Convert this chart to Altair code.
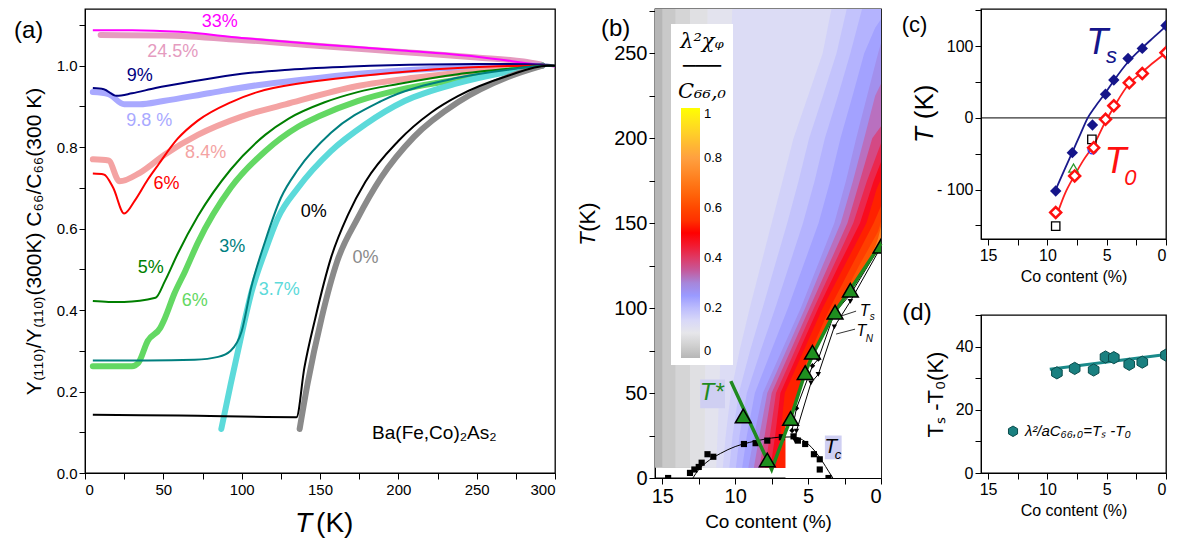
import altair as alt
import pandas as pd

FONT = "Liberation Sans"

# ======================= panel (a) data =======================
T33 = [5, 30, 60, 100, 150, 200, 250, 295, 300]
V33 = [1.087, 1.087, 1.083, 1.068, 1.052, 1.038, 1.022, 1.0, 0.998]
T245 = [10, 50, 100, 150, 200, 250, 280, 291]
V245 = [1.075, 1.074, 1.063, 1.048, 1.034, 1.02, 1.01, 1.003]
T9 = [5, 12, 20, 30, 45, 70, 100, 130, 170, 220, 260, 295, 300]
V9 = [0.945, 0.942, 0.926, 0.932, 0.945, 0.962, 0.98, 0.99, 0.998, 1.003, 1.004, 1.002, 1.0]
T98 = [5, 15, 25, 35, 50, 80, 110, 140, 175, 210, 250, 292]
V98 = [0.935, 0.93, 0.905, 0.905, 0.913, 0.933, 0.952, 0.966, 0.98, 0.99, 0.996, 1.0]
T6R = [5, 12, 18, 25, 32, 40, 47, 59, 72, 93, 110, 140, 174, 210, 238, 270, 295, 300]
V6R = [0.735, 0.733, 0.70, 0.637, 0.67, 0.72, 0.758, 0.82, 0.865, 0.91, 0.935, 0.958, 0.974, 0.987, 0.994, 0.999, 1.0, 1.0]
T84 = [5, 15, 22, 35, 51, 72, 100, 128, 174, 210, 238, 270, 292]
V84 = [0.77, 0.767, 0.716, 0.737, 0.782, 0.83, 0.875, 0.905, 0.95, 0.97, 0.982, 0.993, 1.0]
T5 = [5, 15, 25, 45, 51, 59, 72, 93, 115, 130, 153, 174, 200, 238, 270, 295, 300]
V5 = [0.422, 0.42, 0.42, 0.43, 0.471, 0.537, 0.63, 0.745, 0.83, 0.87, 0.91, 0.935, 0.955, 0.979, 0.992, 1.0, 1.0]
T6G = [5, 30, 34, 40, 48, 51, 57, 64, 72, 93, 115, 136, 149, 174, 200, 238, 270, 292]
V6G = [0.262, 0.262, 0.27, 0.324, 0.356, 0.38, 0.44, 0.496, 0.565, 0.70, 0.79, 0.85, 0.875, 0.913, 0.94, 0.966, 0.988, 1.0]
T3 = [5, 40, 70, 85, 93, 100, 106, 115, 125, 136, 157, 189, 238, 270, 295, 300]
V3 = [0.276, 0.276, 0.278, 0.285, 0.30, 0.348, 0.454, 0.569, 0.675, 0.745, 0.835, 0.913, 0.97, 0.99, 1.0, 1.0]
T37 = [87, 93, 100, 106, 115, 123, 136, 157, 179, 204, 238, 270, 292]
V37 = [0.108, 0.218, 0.341, 0.44, 0.545, 0.625, 0.70, 0.79, 0.856, 0.913, 0.957, 0.985, 1.0]
T0K = [5, 60, 135, 140, 147, 157, 168, 179, 200, 221, 238, 270, 295, 300]
V0K = [0.143, 0.141, 0.137, 0.258, 0.38, 0.528, 0.635, 0.715, 0.815, 0.885, 0.925, 0.975, 1.0, 1.0]
T0G = [137, 142, 151, 161, 174, 189, 210, 238, 270, 292]
V0G = [0.108, 0.218, 0.38, 0.52, 0.625, 0.725, 0.825, 0.91, 0.972, 1.0]

A_LINES = [("33%", T33, V33), ("9%", T9, V9), ("6%", T6R, V6R), ("5%", T5, V5),
           ("3%", T3, V3), ("0%", T0K, V0K)]
A_BANDS = [("24.5%", T245, V245), ("9.8 %", T98, V98), ("8.4%", T84, V84),
           ("6% pts", T6G, V6G), ("3.7%", T37, V37), ("0% pts", T0G, V0G)]
A_NAMES = ["33%", "24.5%", "9%", "9.8 %", "6%", "8.4%", "5%", "6% pts", "3%", "3.7%", "0%", "0% pts"]
A_COLORS = ["#ff00ff", "#e59bbf", "#00007f", "#a9a9ff", "#ff0000", "#f4a3a3", "#007f00", "#63d863",
            "#007f7f", "#5cdada", "#000000", "#8a8a8a"]
# label text, series, T, value
A_LABELS = [("33%", "33%", 86, 1.107), ("24.5%", "24.5%", 56, 1.033), ("9%", "9%", 35, 0.974),
            ("9.8 %", "9.8 %", 41, 0.864), ("8.4%", "8.4%", 77, 0.785), ("6%", "6%", 52, 0.709),
            ("5%", "5%", 42, 0.503), ("6%", "6% pts", 70, 0.422), ("3%", "3%", 94, 0.555),
            ("3.7%", "3.7%", 124, 0.45), ("0%", "0%", 146, 0.64), ("0%", "0% pts", 179, 0.528)]

# ======================= panel (b) data =======================
# colour map lambda^2 chi / C66,0 read from the picture as iso-value lines:
# for each level, Co content (%) of the iso line at the listed temperatures (K);
# the value is >= level on the low-Co (right) side of the line.
CONTOURS = [
    (0.025, [15.0, 15.0], [6, 276]),
    (0.05, [14.1, 14.1], [6, 276]),
    (0.075, [13.1, 13.1], [6, 276]),
    (0.1, [12.1, 12.0, 11.9], [6, 150, 276]),
    (0.125, [11.3, 11.1, 10.9, 10.5, 10.2], [6, 50, 100, 200, 276]),
    (0.15, [10.85, 10.65, 10.3, 9.7, 9.0, 8.25, 7.5, 6.75, 6.0, 5.0, 4.0, 3.4],
     [6, 25, 50, 75, 100, 125, 150, 175, 200, 225, 250, 276]),
    (0.175, [10.4, 10.18, 9.75, 8.98, 8.12, 7.28, 6.43, 5.65, 4.93, 3.98, 3.05, 2.35],
     [6, 25, 50, 75, 100, 125, 150, 175, 200, 225, 250, 276]),
    (0.2, [9.95, 9.7, 9.2, 8.25, 7.25, 6.3, 5.35, 4.55, 3.85, 2.95, 2.1, 1.3],
     [6, 25, 50, 75, 100, 125, 150, 175, 200, 225, 250, 276]),
    (0.225, [9.52, 9.2, 8.65, 7.52, 6.38, 5.33, 4.28, 3.48, 2.78, 1.95, 1.15, 0.4, 0.0],
     [6, 25, 50, 75, 100, 125, 150, 175, 200, 225, 250, 265, 270]),
    (0.25, [9.1, 8.7, 8.1, 6.8, 5.5, 4.35, 3.2, 2.4, 1.7, 0.95, 0.2, 0.0],
     [6, 25, 50, 75, 100, 125, 150, 175, 200, 225, 250, 256]),
    (0.3, [8.72, 8.34, 7.8, 6.5, 5.2, 4.0, 2.76, 1.92, 1.15, 0.4, 0.0],
     [6, 25, 50, 75, 100, 125, 150, 175, 200, 225, 232]),
    (0.35, [8.34, 7.98, 7.5, 6.2, 4.9, 3.6, 2.3, 1.45, 0.6, 0.0],
     [6, 25, 50, 75, 100, 125, 150, 175, 200, 207]),
    (0.4, [7.96, 7.62, 7.2, 5.9, 4.6, 3.25, 1.9, 0.96, 0.0], [6, 25, 50, 75, 100, 125, 150, 175, 197]),
    (0.45, [7.58, 7.26, 6.9, 5.6, 4.3, 2.9, 1.44, 0.5, 0.0], [6, 25, 50, 75, 100, 125, 150, 175, 186]),
    (0.5, [7.2, 6.9, 6.6, 5.3, 4.0, 2.5, 1.0, 0.3, 0.0], [6, 25, 50, 75, 100, 125, 150, 170, 176]),
    (0.55, [5.6, 5.5, 4.8, 3.5, 2.0, 0.5, 0.0], [45, 60, 75, 100, 125, 150, 160]),
    (0.6, [3.6, 3.0, 1.5, 0.2, 0.0], [90, 100, 125, 145, 151]),
    (0.65, [2.2, 1.0, 0.2, 0.0], [112, 125, 140, 145]),
    (0.7, [0.6, 0.2, 0.0], [131, 141, 148]),
]
MAP_X = [15.5, 0.0]     # extent of the colour map (Co %)
MAP_T = [6, 276]        # extent of the colour map (K)
# edge of the measured region (right of it: no data, white)
EDGE_X = [6.55, 6.55, 6.2, 5.2, 4.6, 3.15, 2.1, 0.0]
EDGE_T = [0, 30, 35, 62, 74, 98, 111, 138]

V_STOPS = [0, 0.05, 0.1, 0.15, 0.2, 0.25, 0.3, 0.35, 0.4, 0.45, 0.5, 0.6, 0.7, 0.8, 0.9, 1.0]
V_COLORS = ["#b6b6b6", "#d0d0d0", "#e6e6ea", "#d8d8f8", "#bcbcfd", "#9a9aff", "#a686da", "#c45a9c",
            "#de3a66", "#f21a30", "#ff0000", "#ff4800", "#ff7818", "#ffa040", "#ffd028", "#ffff00"]

TC_X = [14.6, 13.1, 12.8, 12.5, 12.3, 11.9, 11.5, 9.4, 8.6, 7.8, 6.8, 6.0, 5.7, 5.2, 4.6, 4.2, 4.2, 3.6]
TC_T = [0, 3, 5, 6.5, 9, 14, 12.5, 20, 20.5, 22, 24, 24.5, 22, 20, 14, 11, 5, 0]
TCF_X = [12.9, 12.5, 12, 11, 10, 9, 8, 7, 6, 5.5, 5, 4.5, 4, 3.6, 3.3]
TCF_T = [0, 5, 9, 14.5, 18.5, 21, 22.8, 24, 24.2, 23, 20, 15.5, 9.5, 4, 0]
BTS_X = [6.1, 5.8, 4.7, 4.3, 3.2, 2.1, 0.1]
BTS_T = [28, 41, 66, 70, 97, 108, 136]
BTN_X = [5.9, 5.8, 4.8, 4.3, 3.2, 2.1, 0.2]
BTN_T = [22, 27.6, 56, 61, 89, 104, 133]
G_X = [10.3, 7.5, 6.2, 5.2, 4.6, 3.15, 2.1, 0.0]
G_T = [57, 5, 35, 62, 74, 98, 111, 138]
TRI_X = [9.45, 7.8, 6.2, 5.2, 4.7, 3.15, 2.1, 0.0]
TRI_T = [36.5, 10.6, 35, 62, 74, 97.6, 110.5, 136.5]

# ======================= panel (c) data =======================
C_TS_X = [9.3, 7.9, 6.2, 5.1, 4.4, 3.2, 2.0, 0.0]
C_TS_T = [-102, -48.5, -9.8, 33, 53, 83, 97, 129]
C_T0_X = [9.3, 7.7, 6.1, 5.1, 4.4, 3.1, 2.0, 0.0]
C_T0_T = [-132, -81, -41.5, -2, 17, 49, 62, 91]
C_TSF_X = [9.3, 8.5, 7.9, 7.2, 6.6, 6.0, 5.1, 4.4, 3.2, 2.0, 1.0, 0.0]
C_TSF_T = [-100, -70, -48, -22, 0, 15, 35, 52, 78, 98, 113, 128]
C_T0F_X = [9.3, 8.5, 7.7, 7.0, 6.1, 5.1, 4.4, 3.1, 2.0, 1.0, 0.0]
C_T0F_T = [-140, -105, -80, -60, -38, -5, 15, 48, 64, 78, 91]
C_SQ_X = [9.3, 6.25]
C_SQ_T = [-151, -30]
C_TRI_X = [7.8]
C_TRI_T = [-70]
C_CIR_X = [6.2]
C_CIR_T = [-44]

# ======================= panel (d) data =======================
D_X = [9.2, 7.7, 6.1, 5.1, 4.4, 3.1, 2.0, 0.0]
D_T = [31.7, 33.1, 32.6, 36.7, 36.5, 34.4, 35.1, 37.3]
D_FIT_X = [9.8, 0.0]
D_FIT_T = [32.8, 37.5]

HEX = "M0,-1L0.866,-0.5L0.866,0.5L0,1L-0.866,0.5L-0.866,-0.5Z"


def long_df(specs):
    rows = []
    for name, ts, vs in specs:
        for t, v in zip(ts, vs):
            rows.append({"series": name, "T": t, "v": v})
    return pd.DataFrame(rows)


def xy(xs, ys):
    return pd.DataFrame({"x": xs, "y": ys})


# ======================= panel (a) =======================
SA_X = alt.Scale(domain=[0, 300], nice=False)
SA_Y = alt.Scale(domain=[0, 1.139], nice=False, zero=False)
AX_AX = alt.Axis(values=list(range(0, 301, 25)), labelExpr="datum.value % 50 === 0 ? datum.label : ''",
                 title=None, labelFontSize=15, tickSize=6, labelPadding=3)
AX_AY = alt.Axis(values=[round(0.1 * i, 1) for i in range(12)],
                 labelExpr="round(datum.value*10) % 2 === 0 ? format(datum.value, '.1f') : ''",
                 title="Y₍₁₁₀₎/Y₍₁₁₀₎(300K)   C₆₆/C₆₆(300 K)", titleFontSize=21,
                 titleFontWeight="normal", titlePadding=12, labelFontSize=15, tickSize=6)
col_a = alt.Color("series:N", scale=alt.Scale(domain=A_NAMES, range=A_COLORS), legend=None)


def enc_a(ch, xf="T", yf="v"):
    return ch.encode(x=alt.X(f"{xf}:Q", scale=SA_X, axis=AX_AX), y=alt.Y(f"{yf}:Q", scale=SA_Y, axis=AX_AY))


bands = enc_a(alt.Chart(long_df(A_BANDS)).mark_line(strokeWidth=6, strokeCap="round", strokeJoin="round",
                                                    interpolate="monotone")).encode(color=col_a)
lines = enc_a(alt.Chart(long_df(A_LINES)).mark_line(strokeWidth=2, interpolate="monotone")).encode(color=col_a)
lab_df = pd.DataFrame(A_LABELS, columns=["text", "series", "T", "v"])
labels_a = enc_a(alt.Chart(lab_df).mark_text(fontSize=18)).encode(text="text:N", color=col_a)
misc_a = pd.DataFrame([
    {"T": 223, "v": 0.098, "text": "Ba(Fe,Co)₂As₂", "size": 19, "style": "normal", "align": "center"},
    {"T": -36, "v": 1.085, "text": "(a)", "size": 24, "style": "normal", "align": "center"},
    {"T": 145, "v": -0.125, "text": "T", "size": 28, "style": "italic", "align": "right"},
    {"T": 147.5, "v": -0.125, "text": "(K)", "size": 28, "style": "normal", "align": "left"},
])
texts_a = []
for _, r in misc_a.iterrows():
    texts_a.append(enc_a(alt.Chart(pd.DataFrame([r])).mark_text(
        fontSize=int(r["size"]), fontStyle=r["style"], align=r["align"], color="black")).encode(text="text:N"))
panel_a = alt.layer(bands, lines, labels_a, *texts_a).properties(width=470, height=464)

# ======================= panel (b) =======================
SB_X = alt.Scale(domain=[15.5, 0], nice=False)
SB_Y = alt.Scale(domain=[0, 276], nice=False)
AX_BX = alt.Axis(values=[15, 12.5, 10, 7.5, 5, 2.5, 0], labelExpr="datum.value % 5 === 0 ? datum.label : ''",
                 title="Co content (%)", titleFontSize=19, titleFontWeight="normal", labelFontSize=20,
                 tickSize=6, titlePadding=6)
AX_BY = alt.Axis(values=list(range(0, 276, 25)), labelExpr="datum.value % 50 === 0 ? datum.label : ''",
                 title=None, labelFontSize=20, tickSize=6)
CS = alt.Scale(domain=V_STOPS, range=V_COLORS)
legend_b = alt.Legend(type="gradient", orient="none", legendX=16, legendY=15, direction="vertical",
                      gradientLength=250, gradientThickness=19, values=[0, 0.2, 0.4, 0.6, 0.8, 1], format="~g",
                      labelFontSize=13, labelOffset=4, fillColor="white", padding=7,
                      title=["λ²χᵩ", "───", "C₆₆,₀"], titleFontSize=21, titleFontWeight="normal",
                      titleFontStyle="italic", titleFont="DejaVu Serif",
                      titleAlign="center", titleAnchor="middle", titleLineHeight=25, titlePadding=6)
color_b = alt.Color("v:Q", scale=CS, legend=legend_b)


def enc_b(ch):
    return ch.encode(x=alt.X("x:Q", scale=SB_X, axis=AX_BX), y=alt.Y("y:Q", scale=SB_Y, axis=AX_BY))


base_map = enc_b(alt.Chart(pd.DataFrame({"x": [MAP_X[0]], "x2": [MAP_X[1]], "y": [MAP_T[0]],
                                         "y2": [MAP_T[1]], "v": [0.0]})).mark_rect()).encode(
    x2="x2:Q", y2="y2:Q", color=color_b)
levels = [l for l, _, _ in CONTOURS]
map_layers = [base_map]
for k, (lev, cx, ct) in enumerate(CONTOURS):
    nxt = levels[k + 1] if k + 1 < len(levels) else lev + 0.05
    mid = (lev + nxt) / 2.0
    df = pd.DataFrame({"x": cx, "y": ct, "v": [mid] * len(cx)})
    map_layers.append(alt.Chart(df).mark_area(orient="horizontal").encode(
        y=alt.Y("y:Q", scale=SB_Y, axis=AX_BY), x=alt.X("x:Q", scale=SB_X, axis=AX_BX),
        x2=alt.datum(0), color=color_b))

white = alt.Chart(xy(EDGE_X, EDGE_T)).mark_area(orient="horizontal", color="white").encode(
    y=alt.Y("y:Q", scale=SB_Y, axis=AX_BY), x=alt.X("x:Q", scale=SB_X, axis=AX_BX), x2=alt.datum(0))
boxes = alt.Chart(pd.DataFrame({"x": [12.4, 3.85], "x2": [10.7, 2.7], "y": [41, 11], "y2": [58, 25]})).mark_rect(
    color="#cfcff2").encode(x=alt.X("x:Q", scale=SB_X, axis=AX_BX), x2="x2:Q",
                            y=alt.Y("y:Q", scale=SB_Y, axis=AX_BY), y2="y2:Q")
g_df = pd.DataFrame({"x": G_X, "y": G_T, "o": list(range(len(G_X)))})
tc_fit = enc_b(alt.Chart(xy(TCF_X, TCF_T)).mark_line(color="black", strokeWidth=1, interpolate="monotone"))
bts_line = enc_b(alt.Chart(xy(BTS_X, BTS_T)).mark_line(color="black", strokeWidth=1))
btn_line = enc_b(alt.Chart(xy(BTN_X, BTN_T)).mark_line(color="black", strokeWidth=1))
bts_pts = enc_b(alt.Chart(xy(BTS_X[:-1], BTS_T[:-1])).mark_point(shape="diamond", filled=True, color="black",
                                                                  size=30, opacity=1))
btn_pts = enc_b(alt.Chart(xy(BTN_X[:-1], BTN_T[:-1])).mark_point(shape="triangle-down", filled=True, color="black",
                                                                  size=30, opacity=1))
tc_pts = enc_b(alt.Chart(xy(TC_X, TC_T)).mark_point(shape="square", filled=True, color="black", size=38,
                                                    opacity=1, clip=True))
green = enc_b(alt.Chart(g_df).mark_line(color="#1f8a1f", strokeWidth=3.5)).encode(order="o:Q")
tri = enc_b(alt.Chart(xy(TRI_X, TRI_T)).mark_point(shape="triangle-up", filled=True, fill="#1f8f1f",
                                                    stroke="black", strokeWidth=1.5, size=250, opacity=1, clip=True))
leader = alt.Chart(pd.DataFrame({"x": [1.71, 1.78], "x2": [2.74, 3.08], "y": [98.2, 87.6], "y2": [95.3, 84.7]})).mark_rule(
    color="black", strokeWidth=0.8).encode(x=alt.X("x:Q", scale=SB_X, axis=AX_BX), x2="x2:Q",
                                           y=alt.Y("y:Q", scale=SB_Y, axis=AX_BY), y2="y2:Q")
B_TEXTS = [
    (18.2, 264, "(b)", 24, "normal", "black", 0),
    (20.1, 140.6, "T", 22, "italic", "black", 270),
    (20.1, 153.5, "(K)", 22, "normal", "black", 270),
    (11.6, 50, "T*", 24, "italic", "#1f8a1f", 0),
    (3.46, 18.5, "T", 21, "italic", "black", 0),
    (2.95, 13.5, "c", 13, "italic", "black", 0),
    (1.13, 98, "T", 16, "italic", "black", 0),
    (0.6, 94.5, "s", 10, "italic", "black", 0),
    (1.34, 86.5, "T", 16, "italic", "black", 0),
    (0.8, 82, "N", 10, "italic", "black", 0),
]
texts_b = [enc_b(alt.Chart(xy([x], [y]).assign(t=t)).mark_text(fontSize=s, fontStyle=st, color=c, angle=an))
           .encode(text="t:N") for x, y, t, s, st, c, an in B_TEXTS]
panel_b = alt.layer(*map_layers, white, boxes, tc_fit, bts_line, btn_line, bts_pts, btn_pts, tc_pts, green, tri,
                    leader, *texts_b).properties(width=226, height=469)

# ======================= panel (c) =======================
SC_X = alt.Scale(domain=[15.6, 0], nice=False)
SC_Y = alt.Scale(domain=[-169, 152], nice=False, zero=False)
AX_CX = alt.Axis(values=[15, 12.5, 10, 7.5, 5, 2.5, 0], labelExpr="datum.value % 5 === 0 ? datum.label : ''",
                 title="Co content (%)", titleFontSize=16, titleFontWeight="normal", labelFontSize=16,
                 tickSize=6, titlePadding=5)
AX_CY = alt.Axis(values=[-150, -100, -50, 0, 50, 100, 150],
                 labelExpr="datum.value % 100 === 0 ? (datum.value < 0 ? '- ' + abs(datum.value) : datum.label) : ''",
                 title=None, labelFontSize=16, tickSize=6)


def enc_c(ch):
    return ch.encode(x=alt.X("x:Q", scale=SC_X, axis=AX_CX), y=alt.Y("y:Q", scale=SC_Y, axis=AX_CY))


zero = alt.Chart(pd.DataFrame({"y": [0]})).mark_rule(color="black", strokeWidth=1).encode(
    y=alt.Y("y:Q", scale=SC_Y, axis=AX_CY))
ts_fit = enc_c(alt.Chart(xy(C_TSF_X, C_TSF_T)).mark_line(color="#1a1a8c", strokeWidth=1.8, interpolate="monotone"))
t0_fit = enc_c(alt.Chart(xy(C_T0F_X, C_T0F_T)).mark_line(color="#ff2020", strokeWidth=1.8, interpolate="monotone"))
sq = enc_c(alt.Chart(xy(C_SQ_X, C_SQ_T)).mark_point(shape="square", filled=False, color="black", size=70,
                                                    strokeWidth=1.3, opacity=1))
ctri = enc_c(alt.Chart(xy(C_TRI_X, C_TRI_T)).mark_point(shape="triangle-up", filled=False, color="#2a9a2a",
                                                        size=90, strokeWidth=1.3, opacity=1))
ccir = enc_c(alt.Chart(xy(C_CIR_X, C_CIR_T)).mark_point(shape="circle", filled=False, color="#3030ff", size=80,
                                                        strokeWidth=1.3, opacity=1))
t0_pts = enc_c(alt.Chart(xy(C_T0_X, C_T0_T)).mark_point(shape="diamond", filled=True, fill="white", stroke="#ff1010",
                                                        strokeWidth=2.5, size=120, opacity=1, clip=True))
ts_pts = enc_c(alt.Chart(xy(C_TS_X, C_TS_T)).mark_point(shape="diamond", filled=True, color="#15158a", size=130,
                                                        opacity=1, clip=True))
C_TEXTS = [
    (21.2, 130, "(c)", 22, "normal", "black", 0),
    (20.3, -23.8, "T", 26, "italic", "black", 270),
    (20.3, 22.4, "(K)", 26, "normal", "black", 270),
    (5.8, 105, "T", 36, "italic", "#15158a", 0),
    (4.6, 86, "s", 22, "italic", "#15158a", 0),
    (4.25, -61.5, "T", 36, "italic", "#ff1010", 0),
    (3.0, -84, "0", 22, "italic", "#ff1010", 0),
]
texts_c = [enc_c(alt.Chart(xy([x], [y]).assign(t=t)).mark_text(fontSize=s, fontStyle=st, color=c, angle=an))
           .encode(text="t:N") for x, y, t, s, st, c, an in C_TEXTS]
panel_c = alt.layer(zero, ts_fit, t0_fit, sq, ctri, ccir, t0_pts, ts_pts, *texts_c).properties(width=185, height=230)

# ======================= panel (d) =======================
SD_X = alt.Scale(domain=[15.6, 0], nice=False)
SD_Y = alt.Scale(domain=[0, 50], nice=False)
AX_DX = alt.Axis(values=[15, 12.5, 10, 7.5, 5, 2.5, 0], labelExpr="datum.value % 5 === 0 ? datum.label : ''",
                 title="Co content (%)", titleFontSize=16, titleFontWeight="normal", labelFontSize=16,
                 tickSize=6, titlePadding=5)
AX_DY = alt.Axis(values=[0, 10, 20, 30, 40, 50], labelExpr="datum.value % 20 === 0 ? datum.label : ''",
                 title="Tₛ -T₀(K)", titleFontSize=22, titleFontWeight="normal", labelFontSize=16, tickSize=6,
                 titlePadding=8)


def enc_d(ch):
    return ch.encode(x=alt.X("x:Q", scale=SD_X, axis=AX_DX), y=alt.Y("y:Q", scale=SD_Y, axis=AX_DY))


d_fit = enc_d(alt.Chart(xy(D_FIT_X, D_FIT_T)).mark_line(color="#1a8a8a", strokeWidth=3))
d_pts = enc_d(alt.Chart(xy(D_X, D_T)).mark_point(shape=HEX, filled=True, fill="#1a8080", stroke="#0b4c4c",
                                                 strokeWidth=1, size=150, opacity=1, clip=True))
d_key = enc_d(alt.Chart(xy([12.9], [13.2])).mark_point(shape=HEX, filled=True, fill="#1a8080", stroke="#0b4c4c",
                                                       strokeWidth=1, size=110, opacity=1))
D_TEXTS = [
    (21.0, 50.7, "(d)", 24, "normal", "black", "center"),
    (11.9, 13.2, "λ²/aC₆₆,₀=Tₛ  -T₀", 15, "italic", "black", "left"),
]
texts_d = [enc_d(alt.Chart(xy([x], [y]).assign(t=t)).mark_text(fontSize=s, fontStyle=st, color=c, align=al))
           .encode(text="t:N") for x, y, t, s, st, c, al in D_TEXTS]
panel_d = alt.layer(d_fit, d_pts, d_key, *texts_d).properties(width=185, height=158)

# ======================= layout =======================
right_col = alt.vconcat(panel_c, panel_d, spacing=76, bounds="flush").resolve_scale(
    x="independent", y="independent", color="independent")
chart = alt.hconcat(panel_a, panel_b, right_col, spacing=100, bounds="flush").resolve_scale(
    x="independent", y="independent", color="independent"
).properties(padding={"left": 5, "top": 0, "right": 0, "bottom": 0}).configure(font=FONT).configure_view(
    stroke="black", strokeWidth=1.3
).configure_axis(grid=False, domainColor="black", tickColor="black", labelColor="black", titleColor="black",
                 labelFont=FONT, titleFont=FONT)

chart.save("out.html", embed_options={"renderer": "svg", "actions": False})
